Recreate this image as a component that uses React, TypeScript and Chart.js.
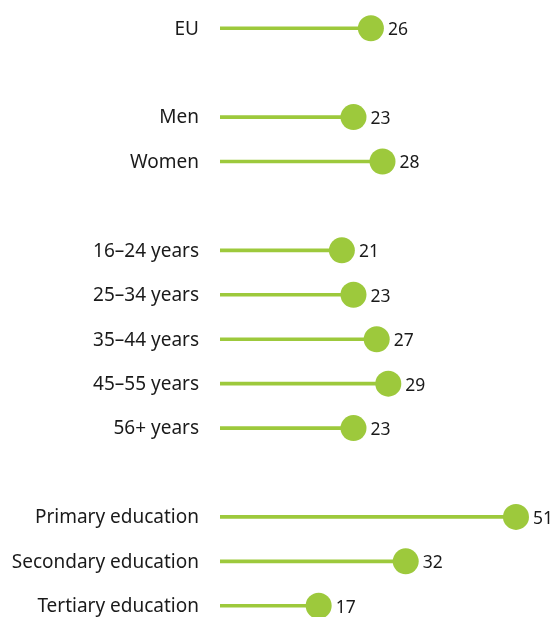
import React, { useEffect, useRef } from "react";
import { Chart, registerables } from "chart.js";

Chart.register(...registerables);

const categories = [
  "EU",
  "",
  "Men",
  "Women",
  " ",
  "16–24 years",
  "25–34 years",
  "35–44 years",
  "45–55 years",
  "56+ years",
  "  ",
  "Primary education",
  "Secondary education",
  "Tertiary education",
];
const values: (number | null)[] = [26, null, 23, 28, null, 21, 23, 27, 29, 23, null, 51, 32, 17];

const GREEN = "#9dc93c";
const TEXT = "#1a1a1a";
const FONT = "'Noto Sans', sans-serif";

const valueLabels = {
  id: "valueLabels",
  afterDatasetsDraw(chart: any) {
    const ctx = chart.ctx;
    const meta = chart.getDatasetMeta(1);
    ctx.save();
    ctx.fillStyle = TEXT;
    ctx.font = `17.5px ${FONT}`;
    ctx.textAlign = "left";
    ctx.textBaseline = "middle";
    meta.data.forEach((pt: any, i: number) => {
      const v = values[i];
      if (v == null) return;
      ctx.fillText(String(v), pt.x + 17, pt.y + 2);
    });
    ctx.restore();
  },
};

export default function App() {
  const ref = useRef<HTMLCanvasElement>(null);
  useEffect(() => {
    const chart = new Chart(ref.current!, {
      type: "bar",
      data: {
        labels: categories,
        datasets: [
          {
            type: "bar",
            data: values as any,
            backgroundColor: GREEN,
            barThickness: 3,
            order: 2,
          },
          {
            type: "line",
            data: values.map((v, i) => ({ x: v, y: categories[i] })) as any,
            showLine: false,
            pointRadius: 13,
            pointHoverRadius: 13,
            pointBackgroundColor: GREEN,
            pointBorderWidth: 0,
            borderColor: GREEN,
            order: 1,
          } as any,
        ],
      },
      options: {
        indexAxis: "y",
        animation: false,
        responsive: true,
        maintainAspectRatio: false,
        layout: { autoPadding: false, padding: { top: 6, right: 9, left: 0, bottom: 0 } },
        plugins: { legend: { display: false }, tooltip: { enabled: false } },
        scales: {
          x: {
            min: 0,
            max: 56,
            display: false,
          },
          y: {
            type: "category",
            border: { display: false },
            grid: { display: false, drawTicks: false },
            ticks: {
              color: TEXT,
              font: { family: FONT, size: 19 },
              padding: 21,
              labelOffset: 1,
            },
            afterFit(scale: any) {
              scale.width = 220;
              scale.paddingTop = 0;
              scale.paddingBottom = 0;
            },
          },
        },
      },
      plugins: [valueLabels],
    });
    return () => chart.destroy();
  }, []);
  return (
    <div style={{ position: "absolute", left: 0, top: 0, width: 554, height: 628 }}>
      <canvas ref={ref} />
    </div>
  );
}
